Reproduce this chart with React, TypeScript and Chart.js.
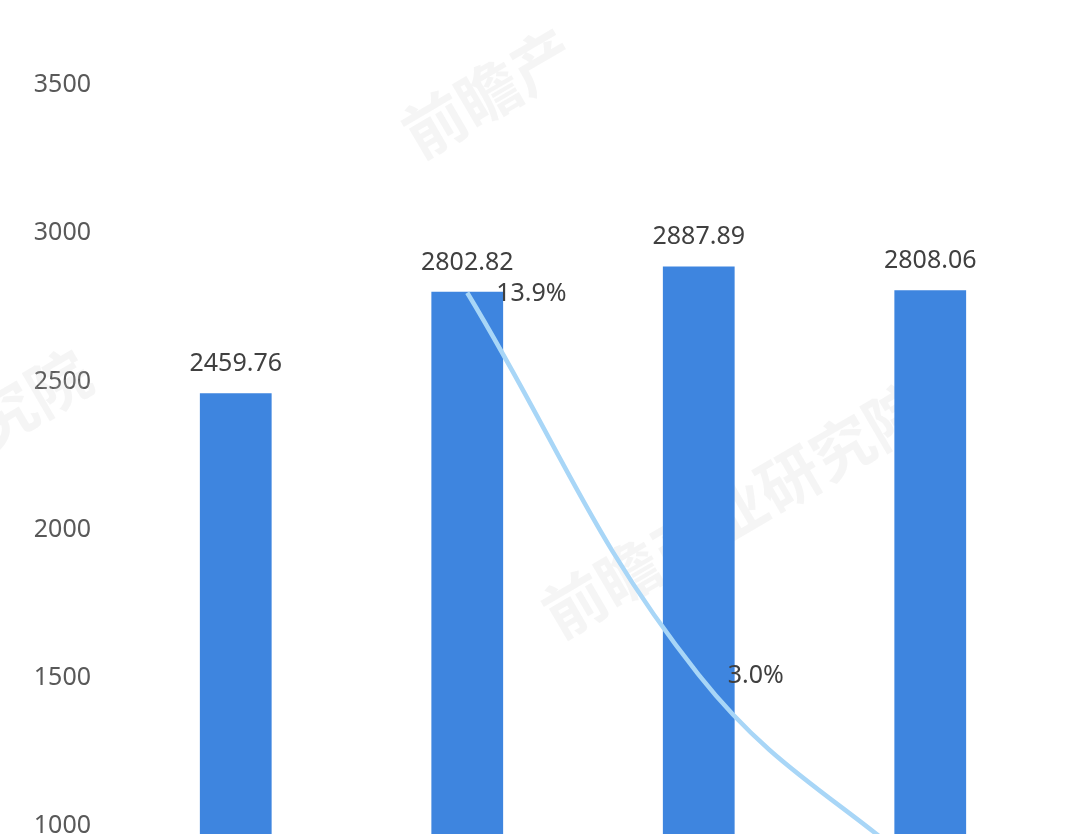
import React, { useEffect, useRef } from "react";
import { Chart, registerables } from "chart.js";

Chart.register(...registerables);

const categories = ["2015", "2016", "2017", "2018"];
const revenueValues = [2459.76, 2802.82, 2887.89, 2808.06];
const growthValues: (number | null)[] = [null, 13.9, 3.0, -2.8];
const leftTickValues = [1000, 1500, 2000, 2500, 3000, 3500];

const FONT = "'Noto Sans', 'Open Sans', sans-serif";

function watermark(ctx: any, text: string, x: number, y: number) {
  ctx.save();
  ctx.fillStyle = "rgba(200,200,200,0.18)";
  ctx.font = `bold 62px 'Noto Sans CJK SC', sans-serif`;
  ctx.translate(x, y);
  ctx.rotate(-0.53);
  ctx.fillText(text, 0, 0);
  ctx.restore();
}

const labelPlugin = {
  id: "valueLabels",
  beforeDatasetsDraw(chart: any) {
    const ctx = chart.ctx;
    watermark(ctx, "前瞻产业研究院", 560, 640);
    watermark(ctx, "前瞻产", 420, 160);
    watermark(ctx, "究院", -10, 450);
  },
  afterDatasetsDraw(chart: any) {
    const ctx = chart.ctx;
    ctx.save();
    ctx.font = `25px ${FONT}`;
    ctx.fillStyle = "#404040";
    const barMeta = chart.getDatasetMeta(1);
    barMeta.data.forEach((el: any, i: number) => {
      ctx.textAlign = "center";
      ctx.textBaseline = "alphabetic";
      ctx.fillText(revenueValues[i].toFixed(2), el.x, el.y - 22);
    });
    const lineMeta = chart.getDatasetMeta(0);
    lineMeta.data.forEach((el: any, i: number) => {
      const v = growthValues[i];
      if (v === null) return;
      ctx.textAlign = "left";
      ctx.textBaseline = "middle";
      ctx.fillText(v.toFixed(1) + "%", el.x + 29, el.y + 1);
    });
    ctx.restore();
  },
};

export default function App() {
  const ref = useRef<HTMLCanvasElement | null>(null);

  useEffect(() => {
    document.body.style.margin = "0";
    document.body.style.background = "#ffffff";
    const canvas = ref.current;
    if (!canvas) return;
    const chart = new Chart(canvas, {
      type: "bar",
      data: {
        labels: categories,
        datasets: [
          {
            type: "line",
            label: "增长率",
            data: growthValues,
            yAxisID: "y2",
            borderColor: "#a8d6f7",
            borderWidth: 4.5,
            tension: 0.4,
            pointRadius: 0,
            fill: false,
            order: 0,
          } as any,
          {
            type: "bar",
            label: "收入",
            data: revenueValues,
            yAxisID: "y",
            backgroundColor: "#3e85df",
            barPercentage: 0.31,
            categoryPercentage: 1,
            order: 1,
          },
        ],
      },
      plugins: [labelPlugin],
      options: {
        responsive: false,
        animation: false,
        devicePixelRatio: 1,
        layout: { padding: { left: 0, right: 46, top: 0, bottom: 0 } },
        plugins: {
          legend: { display: false },
          tooltip: { enabled: false },
          title: { display: false },
        },
        scales: {
          x: {
            display: false,
            offset: true,
            grid: { display: false },
          },
          y: {
            position: "left",
            min: 973,
            max: 3787,
            grid: { display: false },
            border: { display: false },
            afterBuildTicks: (scale: any) => {
              scale.ticks = leftTickValues.map((v) => ({ value: v }));
            },
            afterFit: (scale: any) => {
              scale.width = 120;
              scale.paddingTop = 0;
              scale.paddingBottom = 0;
            },
            ticks: {
              padding: 21,
              color: "#595959",
              font: { size: 25, family: FONT },
              callback: (v: any) => String(v),
            },
          },
          y2: {
            position: "right",
            display: false,
            min: -1.54,
            max: 22.25,
          },
        },
      },
    });
    return () => chart.destroy();
  }, []);

  return (
    <div style={{ width: 1092, height: 834, position: "relative" }}>
      <canvas ref={ref} width={1092} height={834} style={{ width: 1092, height: 834, display: "block" }} />
    </div>
  );
}
